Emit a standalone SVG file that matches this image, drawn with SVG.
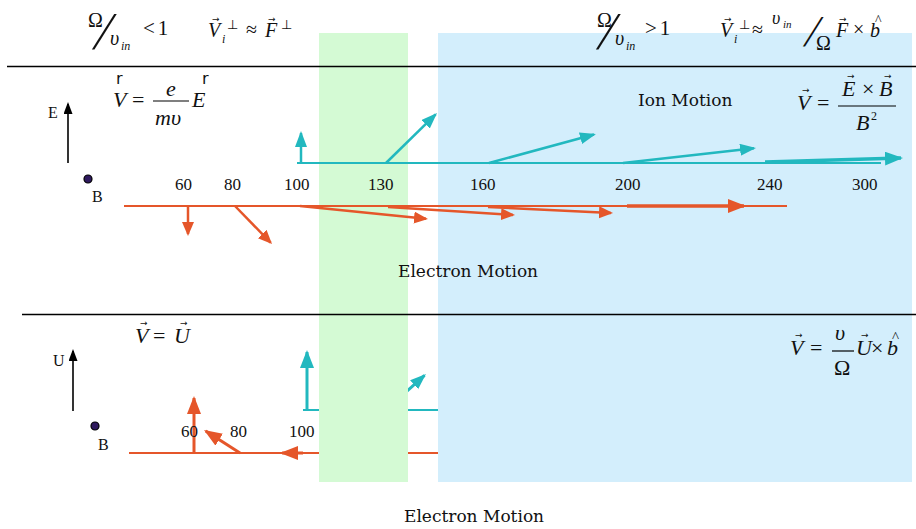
<svg xmlns="http://www.w3.org/2000/svg" width="916" height="529" viewBox="0 0 916 529">
<style>
text{font-family:"Liberation Serif",serif;fill:#111}
.lbl{font-family:"DejaVu Serif","Liberation Serif",serif;font-size:17px}
.num{font-size:17px}
.m{font-style:italic}
.sub{font-style:italic;font-size:12px}
.va{font-family:"DejaVu Sans",sans-serif;font-size:9px}
.or{stroke:#e5562a;fill:none}
.cy{stroke:#22b8bf;fill:none}
.bk{stroke:#000;fill:none}
</style>
<defs>
<marker id="ao" markerUnits="userSpaceOnUse" markerWidth="16" markerHeight="14" refX="12" refY="6" orient="auto"><path d="M0,0 L14,6 L0,12 z" fill="#e5562a"/></marker>
<marker id="aoL" markerUnits="userSpaceOnUse" markerWidth="20" markerHeight="16" refX="16" refY="7" orient="auto"><path d="M0,0 L18,7 L0,14 z" fill="#e5562a"/></marker>
<marker id="ac" markerUnits="userSpaceOnUse" markerWidth="18" markerHeight="14" refX="14" refY="6" orient="auto"><path d="M0,0 L16,6 L0,12 z" fill="#22b8bf"/></marker>
<marker id="acL" markerUnits="userSpaceOnUse" markerWidth="20" markerHeight="16" refX="16" refY="7" orient="auto"><path d="M0,0 L18,7 L0,14 z" fill="#22b8bf"/></marker>
<marker id="ak" markerUnits="userSpaceOnUse" markerWidth="14" markerHeight="10" refX="10" refY="4.5" orient="auto"><path d="M0,0 L12,4.5 L0,9 z" fill="#000"/></marker>
</defs>

<!-- lower panel lines behind the regions -->
<g id="connectors-lower-back">
<path class="cy" stroke-width="2" d="M303,410 H438"/>
<path class="or" stroke-width="2" d="M129,453 H438"/>
<path class="cy" stroke-width="3" d="M386,410 L424.5,375.3" marker-end="url(#ac)"/>
</g>

<g id="regions">
<rect id="transition-region" x="319" y="33" width="89" height="449" fill="#d4fad4"/>
<rect id="magnetized-region" x="438" y="33" width="474" height="449" fill="#d3eefc"/>
</g>

<g id="dividers">
<line x1="7" y1="66.5" x2="916" y2="66.5" stroke="#000" stroke-width="1.5"/>
<line x1="22" y1="314.5" x2="916" y2="314.5" stroke="#000" stroke-width="1.5"/>
</g>

<g id="header-left">
<text x="88" y="27" style="font-size:20px">Ω</text>
<text style="font-size:53px" transform="translate(92,49) skewX(-16)">/</text>
<text class="m" x="110" y="45" style="font-size:20px">υ</text><text class="sub" x="121" y="50">in</text>
<text x="143" y="35" style="font-size:21px;letter-spacing:3px">&lt;1</text>
<text class="m" x="208" y="37" style="font-size:20px">V</text><text class="va" x="212" y="22">→</text>
<text class="sub" x="222" y="43">i</text><text x="227" y="29" style="font-size:13px">⊥</text>
<text x="246" y="36" style="font-size:20px">≈</text>
<text class="m" x="265" y="37" style="font-size:20px">F</text><text class="va" x="268" y="22">→</text>
<text x="281" y="29" style="font-size:13px">⊥</text>
</g>

<g id="header-right">
<text x="597" y="27" style="font-size:20px">Ω</text>
<text style="font-size:53px" transform="translate(596,49) skewX(-16)">/</text>
<text class="m" x="615" y="45" style="font-size:20px">υ</text><text class="sub" x="626" y="50">in</text>
<text x="645" y="35" style="font-size:21px;letter-spacing:3px">&gt;1</text>
<text class="m" x="720" y="37" style="font-size:20px">V</text><text class="va" x="724" y="22">→</text>
<text class="sub" x="734" y="43">i</text><text x="739" y="29" style="font-size:13px">⊥</text>
<text x="752" y="36" style="font-size:20px">≈</text>
<text class="m" x="772" y="24" style="font-size:18px">υ</text><text class="sub" x="783" y="28" style="font-size:11px">in</text>
<text style="font-size:44px" transform="translate(803,46) skewX(-16)">/</text>
<text x="816" y="50" style="font-size:20px">Ω</text>
<text class="m" x="836" y="37" style="font-size:20px">F</text><text class="va" x="839" y="22">→</text>
<text x="853" y="36" style="font-size:20px">×</text>
<text class="m" x="870" y="37" style="font-size:20px">b</text><text x="875" y="25" style="font-size:14px">^</text>
</g>

<g id="formula-unmagnetized">
<text x="116" y="84" style="font-family:'DejaVu Sans',sans-serif;font-size:16px">r</text>
<text class="m" x="113" y="107" style="font-size:22px">V</text>
<text x="132" y="107" style="font-size:22px">=</text>
<text class="m" x="166" y="96" style="font-size:22px">e</text>
<line x1="153" y1="101" x2="189" y2="101" stroke="#000" stroke-width="1.2"/>
<text class="m" x="155" y="125" style="font-size:22px">mυ</text>
<text class="m" x="192" y="107" style="font-size:22px">E</text>
<text x="202" y="84" style="font-family:'DejaVu Sans',sans-serif;font-size:16px">r</text>
</g>

<g id="formula-exb">
<text class="m" x="797" y="110" style="font-size:22px">V</text><text class="va" x="802" y="93">→</text>
<text x="817" y="110" style="font-size:22px">=</text>
<text class="m" x="842" y="96" style="font-size:22px">E</text><text class="va" x="847" y="79">→</text>
<text x="862" y="96" style="font-size:22px">×</text>
<text class="m" x="879" y="96" style="font-size:22px">B</text><text class="va" x="884" y="79">→</text>
<line x1="838" y1="106" x2="896" y2="106" stroke="#000" stroke-width="1.2"/>
<text class="m" x="856" y="130" style="font-size:22px">B</text>
<text x="871" y="120" style="font-size:12px">2</text>
</g>

<g id="axes-upper">
<path class="bk" stroke-width="1.6" d="M68,163 V104" marker-end="url(#ak)"/>
<text x="48" y="118" style="font-size:16px">E</text>
<circle cx="88" cy="179" r="4" fill="#2f1a5e" stroke="#000" stroke-width="1.2"/>
<text x="92" y="202" style="font-size:16px">B</text>
</g>

<g id="altitude-labels-upper">
<text class="num" x="175" y="190">60</text>
<text class="num" x="224" y="190">80</text>
<text class="num" x="284" y="190">100</text>
<text class="num" x="368" y="190">130</text>
<text class="num" x="470" y="190">160</text>
<text class="num" x="615" y="190">200</text>
<text class="num" x="757" y="190">240</text>
<text class="num" x="852" y="190">300</text>
</g>

<g id="connectors">
<path class="cy" stroke-width="2" d="M297,163 H881"/>
<path class="cy" stroke-width="2.5" d="M301,163 V133" marker-end="url(#ac)"/>
<path class="cy" stroke-width="2.5" d="M386,163 L435.6,114.4" marker-end="url(#ac)"/>
<path class="cy" stroke-width="2.5" d="M489,163 L594,134.5" marker-end="url(#ac)"/>
<path class="cy" stroke-width="2.5" d="M623,163 L754,148.2" marker-end="url(#ac)"/>
<path class="cy" stroke-width="3.5" d="M765,162 L901,158.1" marker-end="url(#acL)"/>
<path class="or" stroke-width="2" d="M124,206 H787"/>
<path class="or" stroke-width="2.5" d="M188,206 V234" marker-end="url(#ao)"/>
<path class="or" stroke-width="2.5" d="M235,206 L270.6,242.6" marker-end="url(#ao)"/>
<path class="or" stroke-width="2.5" d="M300,206 L426,218.8" marker-end="url(#ao)"/>
<path class="or" stroke-width="2.5" d="M388,207 L513,214.9" marker-end="url(#ao)"/>
<path class="or" stroke-width="2.5" d="M488,207 L611,212.9" marker-end="url(#ao)"/>
<path class="or" stroke-width="3.5" d="M627,206 L744,206" marker-end="url(#aoL)"/>
<path class="cy" stroke-width="3" d="M307,411 V352" marker-end="url(#acL)"/>
<path class="or" stroke-width="3" d="M194,453 V398" marker-end="url(#aoL)"/>
<path class="or" stroke-width="3" d="M240,453 L205.7,431.1" marker-end="url(#aoL)"/>
<path class="or" stroke-width="3" d="M303,453 L282,453" marker-end="url(#aoL)"/>
</g>

<g id="label-ion-motion"><text class="lbl" x="638" y="106">Ion Motion</text></g>
<g id="label-electron-motion-upper"><text class="lbl" x="398" y="277">Electron Motion</text></g>

<g id="formula-lower-left">
<text class="m" x="135" y="343" style="font-size:22px">V</text><text class="va" x="140" y="326">→</text>
<text x="153" y="343" style="font-size:22px">=</text>
<text class="m" x="174" y="343" style="font-size:22px">U</text><text class="va" x="180" y="326">→</text>
</g>

<g id="formula-lower-right">
<text class="m" x="790" y="355" style="font-size:22px">V</text><text class="va" x="795" y="338">→</text>
<text x="810" y="355" style="font-size:22px">=</text>
<text class="m" x="835" y="340" style="font-size:22px">υ</text>
<line x1="832" y1="351" x2="854" y2="351" stroke="#000" stroke-width="1.2"/>
<text x="834" y="375" style="font-size:22px">Ω</text>
<text class="m" x="856" y="355" style="font-size:22px">U</text><text class="va" x="861" y="338">→</text>
<text x="871" y="355" style="font-size:22px">×</text>
<text class="m" x="887" y="355" style="font-size:22px">b</text><text x="892" y="342" style="font-size:15px">^</text>
</g>

<g id="axes-lower">
<path class="bk" stroke-width="1.6" d="M73,411 V351" marker-end="url(#ak)"/>
<text x="53" y="366" style="font-size:16px">U</text>
<circle cx="95" cy="426" r="4" fill="#2f1a5e" stroke="#000" stroke-width="1.2"/>
<text x="98" y="450" style="font-size:16px">B</text>
</g>

<g id="altitude-labels-lower">
<text class="num" x="181" y="437">60</text>
<text class="num" x="230" y="437">80</text>
<text class="num" x="289" y="437">100</text>
</g>

<g id="label-electron-motion-lower"><text class="lbl" x="404" y="522">Electron Motion</text></g>
</svg>
